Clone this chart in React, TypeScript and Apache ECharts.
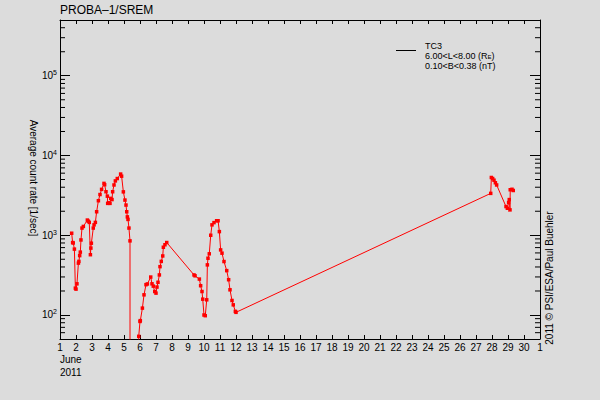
import React, { useEffect, useRef } from "react";
import * as echarts from "echarts";

// Day of June 2011 (fractional) and average count rate [1/sec]
const days = [
  1.73, 1.79, 1.83, 1.9, 1.96, 2.0, 2.06, 2.15, 2.18, 2.23, 2.27, 2.31, 2.375, 2.46, 2.71, 2.77, 2.83,
  2.9, 2.93, 2.96, 3.08, 3.13, 3.21, 3.29, 3.4, 3.5, 3.6, 3.75, 3.79, 3.875, 3.96, 3.98, 4.04, 4.125,
  4.17, 4.25, 4.29, 4.375, 4.46, 4.58, 4.79, 4.85, 4.96, 5.06, 5.125, 5.17, 5.21, 5.25, 5.31, 5.375,
  5.38, 5.915, 5.92, 6.0, 6.02, 6.15, 6.25, 6.375, 6.46, 6.67, 6.75, 6.83, 6.92, 7.0, 7.06, 7.125,
  7.21, 7.25, 7.33, 7.42, 7.46, 7.56, 7.67, 9.375, 9.44, 9.71, 9.79, 9.875, 9.92, 10.0, 10.08, 10.17,
  10.21, 10.25, 10.33, 10.42, 10.5, 10.625, 10.79, 10.88, 10.96, 11.04, 11.125, 11.25, 11.42, 11.54,
  11.625, 11.75, 11.83, 11.96, 12.0, 27.92, 27.96, 28.04, 28.125, 28.21, 28.29, 28.875, 28.96, 29.04,
  29.08, 29.125, 29.14, 29.25, 29.33,
];
const countRate = [
  1060, 810, 800, 670, 217, 211, 246, 447, 470, 555, 614, 873, 1230, 1290, 1550, 1500, 1450,
  570, 690, 795, 1230, 1350, 1450, 1970, 2710, 3240, 3760, 4470, 4300, 3510, 3090, 2510, 2550, 2510,
  2900, 2800, 3510, 4270, 4800, 5140, 5850, 5500, 3500, 2760, 2390, 1970, 1700, 1580, 1230, 850,
  0.001, 0.001, 54, 83, 85, 122, 179, 240, 245, 299, 246, 230, 197, 188, 224, 257,
  318, 404, 470, 550, 707, 760, 810, 318, 310, 282, 233, 197, 158, 100, 98, 155,
  425, 515, 585, 1000, 1350, 1440, 1520, 1520, 1110, 655, 596, 468, 360, 277,
  207, 152, 134, 111, 108, 3350, 5300, 5140, 4900, 4550, 4270, 2290, 2180, 2570,
  2800, 2080, 3720, 3770, 3640,
];

const dayMin = 1;
const dayMax = 31;
const rateMin = 50;
const rateMax = 500000;
const dayTickLabels = [
  "1", "2", "3", "4", "5", "6", "7", "8", "9", "10", "11", "12", "13", "14", "15", "16",
  "17", "18", "19", "20", "21", "22", "23", "24", "25", "26", "27", "28", "29", "30", "1",
];
const minorTickValues = [
  60, 70, 80, 90,
  200, 300, 400, 500, 600, 700, 800, 900,
  2000, 3000, 4000, 5000, 6000, 7000, 8000, 9000,
  20000, 30000, 40000, 50000, 60000, 70000, 80000, 90000,
  200000, 300000, 400000,
];

const FONT = "Liberation Sans";

export default function App() {
  const ref = useRef<HTMLDivElement>(null);
  useEffect(() => {
    if (!ref.current) return;
    const chart = echarts.init(ref.current, null, { renderer: "svg" });
    const lineData = days.map((d, i) => [d, countRate[i]]);
    const supLabel = (v: number) => {
      const e = Math.round(Math.log10(v));
      return "{b|10}{s|" + e + "}";
    };
    const option: any = {
      animation: false,
      backgroundColor: "#dcdcdc",
      textStyle: { fontFamily: FONT, color: "#000" },
      grid: { left: 60, right: 60, top: 20, bottom: 61, containLabel: false, outerBoundsMode: "none" },
      xAxis: [
        {
          type: "value",
          min: dayMin,
          max: dayMax,
          interval: 1,
          position: "bottom",
          axisLine: { show: true, lineStyle: { color: "#000", width: 1 } },
          axisTick: { show: true, inside: true, length: 4, lineStyle: { color: "#000" } },
          axisLabel: {
            show: true,
            margin: 3,
            fontSize: 10,
            fontFamily: FONT,
            color: "#000",
            formatter: (v: number) => dayTickLabels[Math.round(v) - dayMin] ?? "",
          },
          splitLine: { show: false },
        },
        {
          type: "value",
          min: dayMin,
          max: dayMax,
          interval: 1,
          position: "top",
          axisLine: { show: true, lineStyle: { color: "#000", width: 1 } },
          axisTick: { show: true, inside: true, length: 4, lineStyle: { color: "#000" } },
          axisLabel: { show: false },
          splitLine: { show: false },
        },
      ],
      yAxis: [
        {
          type: "log",
          logBase: 10,
          min: rateMin,
          max: rateMax,
          position: "left",
          axisLine: { show: true, lineStyle: { color: "#000", width: 1 } },
          axisTick: { show: true, inside: true, length: 10, lineStyle: { color: "#000" } },
          minorTick: { show: false },
          axisLabel: {
            show: true,
            margin: 3,
            showMinLabel: false,
            showMaxLabel: false,
            fontFamily: FONT,
            color: "#000",
            formatter: supLabel,
            rich: {
              b: { fontSize: 10, fontFamily: FONT, color: "#000" },
              s: { fontSize: 7, fontFamily: FONT, color: "#000", padding: [0, 0, 6, 0] },
            },
          },
          splitLine: { show: false },
        },
        {
          type: "log",
          logBase: 10,
          min: rateMin,
          max: rateMax,
          position: "right",
          axisLine: { show: true, lineStyle: { color: "#000", width: 1 } },
          axisTick: { show: true, inside: true, length: 10, lineStyle: { color: "#000" } },
          minorTick: { show: false },
          axisLabel: { show: false },
          splitLine: { show: false },
        },
      ],
      series: [
        {
          type: "custom",
          xAxisIndex: 0,
          yAxisIndex: 0,
          silent: true,
          clip: false,
          data: minorTickValues.map((v) => [dayMin, v]),
          renderItem: (params: any, api: any) => {
            const v = api.value(1);
            const l = api.coord([dayMin, v]);
            const r = api.coord([dayMax, v]);
            return {
              type: "group",
              children: [
                { type: "line", shape: { x1: l[0], y1: l[1], x2: l[0] + 5, y2: l[1] }, style: { stroke: "#000", lineWidth: 1 } },
                { type: "line", shape: { x1: r[0], y1: r[1], x2: r[0] - 5, y2: r[1] }, style: { stroke: "#000", lineWidth: 1 } },
              ],
            };
          },
        },
        {
          type: "line",
          xAxisIndex: 0,
          yAxisIndex: 0,
          data: lineData,
          clip: true,
          showAllSymbol: true,
          symbol: "rect",
          symbolSize: 3.5,
          itemStyle: { color: "#ff0000" },
          lineStyle: { color: "#ff0000", width: 1 },
          emphasis: { disabled: true },
        },
      ],
      graphic: [
        { type: "text", x: 60, y: 10, style: { text: "PROBA–1/SREM", fontSize: 12, fontFamily: FONT, fill: "#000", verticalAlign: "middle" } },
        {
          type: "text",
          x: 33,
          y: 178,
          rotation: -Math.PI / 2,
          style: { text: "Average count rate [1/sec]", fontSize: 10, fontFamily: FONT, fill: "#000", align: "center", verticalAlign: "middle" },
        },
        {
          type: "text",
          x: 549,
          y: 278,
          rotation: Math.PI / 2,
          style: { text: "2011 © PSI/ESA/Paul Buehler", fontSize: 10, fontFamily: FONT, fill: "#000", align: "center", verticalAlign: "middle" },
        },
        { type: "text", x: 60, y: 359, style: { text: "June", fontSize: 10, fontFamily: FONT, fill: "#000", verticalAlign: "middle" } },
        { type: "text", x: 60, y: 372, style: { text: "2011", fontSize: 10, fontFamily: FONT, fill: "#000", verticalAlign: "middle" } },
        { type: "line", shape: { x1: 396, y1: 50.5, x2: 416, y2: 50.5 }, style: { stroke: "#000", lineWidth: 1 } },
        { type: "text", x: 425, y: 45.5, style: { text: "TC3", fontSize: 9, fontFamily: FONT, fill: "#000", verticalAlign: "middle" } },
        {
          type: "text",
          x: 425,
          y: 55.5,
          style: {
            text: "6.00<L<8.00 (R{sub|E})",
            fontSize: 9,
            fontFamily: FONT,
            fill: "#000",
            verticalAlign: "middle",
            rich: { sub: { fontSize: 6, fontFamily: FONT, fill: "#000", padding: [2, 0, 0, 0] } },
          },
        },
        { type: "text", x: 425, y: 65.5, style: { text: "0.10<B<0.38 (nT)", fontSize: 9, fontFamily: FONT, fill: "#000", verticalAlign: "middle" } },
      ],
    };
    chart.setOption(option);
    return () => chart.dispose();
  }, []);
  return <div ref={ref} style={{ width: 600, height: 400, position: "absolute", left: 0, top: 0 }} />;
}
